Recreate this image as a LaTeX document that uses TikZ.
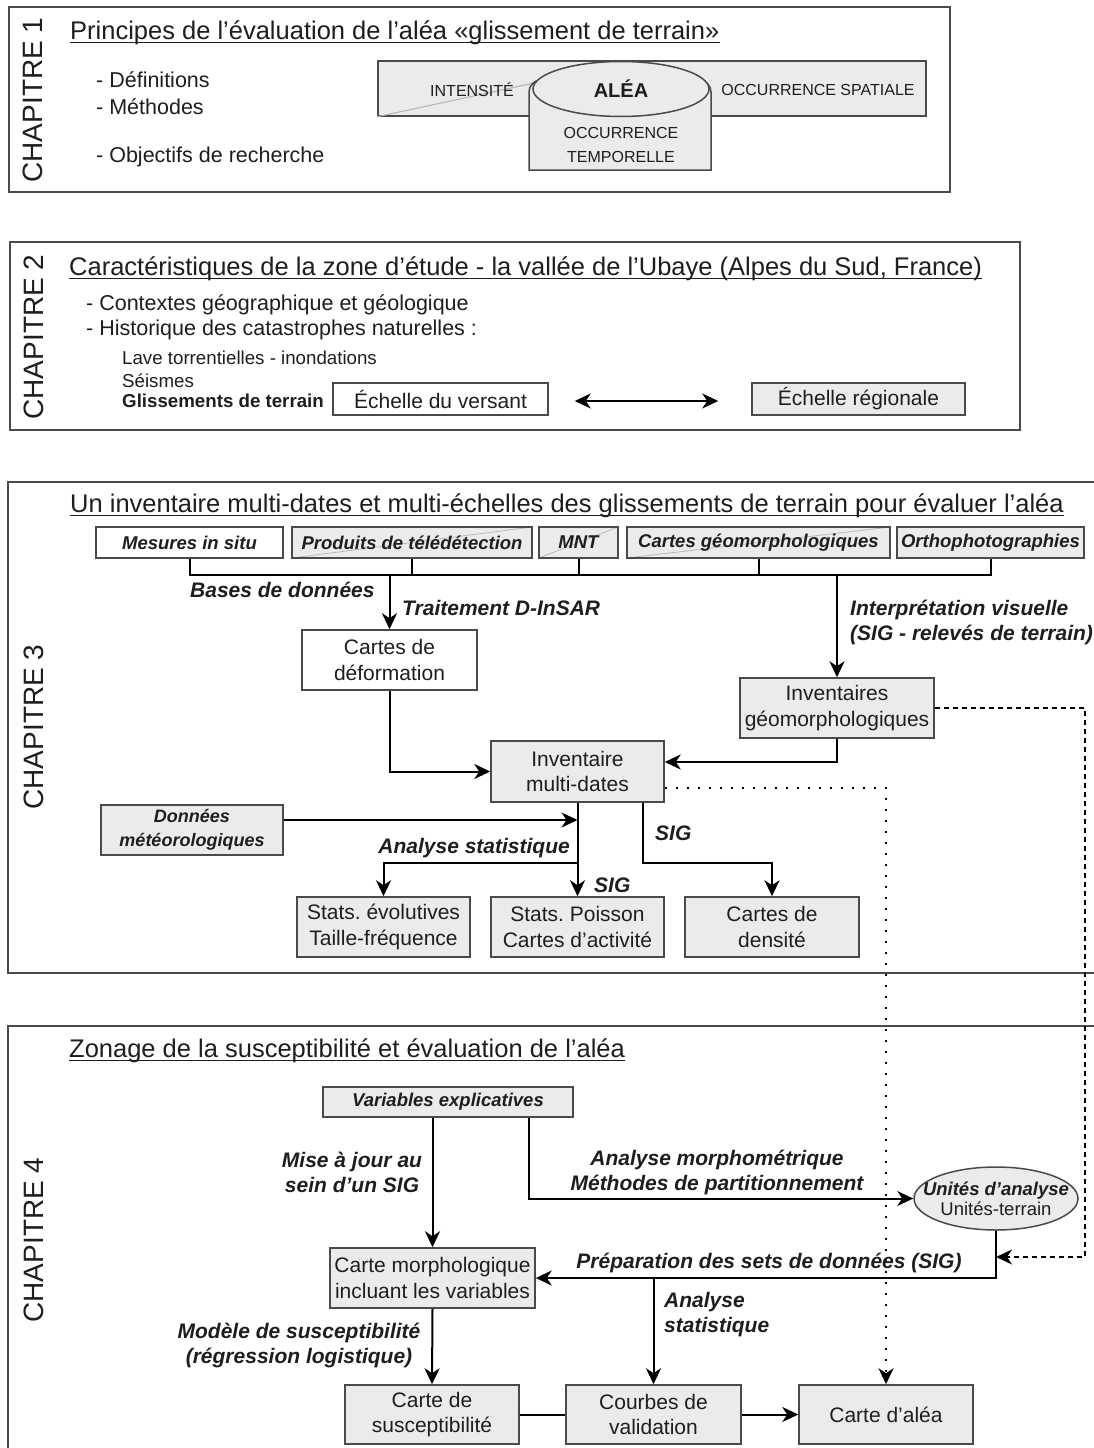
\documentclass[tikz,border=0pt]{standalone}
\usepackage{fontspec}
\setmainfont{Liberation Sans}
\usetikzlibrary{arrows.meta,calc,shapes.geometric}
\definecolor{bfill}{HTML}{EBEBEB}
\definecolor{bdraw}{HTML}{4A4A4A}
\definecolor{txt}{HTML}{1E1E1E}
\newcommand{\fsz}[2]{\fontsize{#1pt}{#2pt}\selectfont}
\frenchspacing
\begin{document}
\begin{tikzpicture}[x=1pt,y=-1pt,
  every node/.style={text=txt},
  chapbox/.style={draw=bdraw,line width=2},
  gbox/.style={draw=bdraw,line width=1.5,fill=bfill,inner sep=0,align=center,font=\fsz{21}{25.5}},
  wbox/.style={gbox,fill=white},
  ifont/.style={font=\fsz{18.5}{22}\bfseries\itshape},
  diag/.style={path picture={\draw[gray!55,line width=0.8] (path picture bounding box.south west) -- (path picture bounding box.north east);}},
  lab/.style={inner sep=0,font=\fsz{21}{25}\bfseries\itshape,align=center},
  tip/.tip={Stealth[length=16pt,width=15pt,inset=5pt]},
  arr/.style={line width=2,-tip},
  conn/.style={line width=2},
  dotline/.style={line width=2,dash pattern=on 2pt off 9pt,-tip},
  dashline/.style={line width=2,dash pattern=on 5pt off 4pt,-tip},
  chap/.style={rotate=90,font=\fsz{28}{30},inner sep=0},
  ttl/.style={anchor=base west,inner sep=0,font=\fsz{25.5}{30}},
  body/.style={anchor=west,inner sep=0},
]
\useasboundingbox[fill=white] (0,0) rectangle (1093,1448);

% ---------------- Chapter 1
\draw[chapbox] (9,7) rectangle (950,192);
\node[chap] (c1) at (33,100) {CHAPITRE 1};
\node[ttl] (t1) at (70,39) {Principes de l’évaluation de l’aléa «glissement de terrain»};
\draw[line width=1.5,txt] ([yshift=-3.5pt]t1.base west) -- ([yshift=-3.5pt]t1.base east);
\node[body,font=\fsz{21.5}{26}] (d1) at (96,80) {- Définitions};
\node[body,font=\fsz{21.5}{26}] (d2) at (96,107) {- Méthodes};
\node[body,font=\fsz{21.5}{26}] (d3) at (96,157) {- Objectifs de recherche};

\node[draw=bdraw,line width=1.5,fill=bfill,minimum width=548pt,minimum height=55pt,inner sep=0] (big) at (652,88.5) {};
\draw[gray!60,line width=1] (big.south west) -- (548,80);
\draw[draw=bdraw,line width=1.5,fill=bfill] (529,170) [rounded corners=12pt] -- (529,80) -- (711,80) [sharp corners] -- (711,170) -- cycle;
\node[draw=bdraw,line width=1.5,fill=bfill,ellipse,minimum width=176pt,minimum height=55pt,inner sep=0,font=\fsz{20}{24}\bfseries] (alea) at (621,89) {ALÉA};
\node[font=\fsz{16}{18},inner sep=0] (intens) at (472,90) {INTENSITÉ};
\node[font=\fsz{16}{18},inner sep=0] (ospat) at (818,90) {OCCURRENCE SPATIALE};
\node[font=\fsz{16}{18},inner sep=0] (otemp1) at (621,133) {OCCURRENCE};
\node[font=\fsz{16}{18},inner sep=0] (otemp2) at (621,157) {TEMPORELLE};

% ---------------- Chapter 2
\draw[chapbox] (10,242) rectangle (1020,430);
\node[chap] (c2) at (34,337) {CHAPITRE 2};
\node[ttl] (t2) at (69,275) {Caractéristiques de la zone d’étude - la vallée de l’Ubaye (Alpes du Sud, France)};
\draw[line width=1.5,txt] ([yshift=-3.5pt]t2.base west) -- ([yshift=-3.5pt]t2.base east);
\node[body,font=\fsz{21.5}{26}] (e1) at (86,305) {- Contextes géographique et géologique};
\node[body,font=\fsz{21.5}{26}] (e2) at (86,330) {- Historique des catastrophes naturelles :};
\node[body,font=\fsz{18.7}{22}] (e3) at (122,358) {Lave torrentielles - inondations};
\node[body,font=\fsz{18.7}{22}] (e4) at (122,381) {Séismes};
\node[body,font=\fsz{18.7}{22}\bfseries] (e5) at (122,401) {Glissements de terrain};
\node[wbox,minimum width=215pt,minimum height=32pt] (vers) at (440.5,399) {Échelle du versant};
\node[gbox,minimum width=213pt,minimum height=32pt] (reg) at (858.5,399) {Échelle régionale};
\draw[line width=2,tip-tip] ([xshift=26pt,yshift=-2pt]vers.east) -- ([xshift=-33pt,yshift=-2pt]reg.west);

% ---------------- Chapter 3
\draw[chapbox] (1100,482) -- (8,482) -- (8,973) -- (1100,973);
\node[chap] (c3) at (34,727) {CHAPITRE 3};
\node[ttl] (t3) at (70,512) {Un inventaire multi-dates et multi-échelles des glissements de terrain pour évaluer l’aléa};
\draw[line width=1.5,txt] ([yshift=-3.5pt]t3.base west) -- ([yshift=-3.5pt]t3.base east);

\node[wbox,ifont,minimum width=187pt,minimum height=31pt] (mes) at (189.5,542.5) {Mesures in situ};
\node[gbox,ifont,diag,minimum width=240pt,minimum height=31pt] (prod) at (412,542.5) {Produits de télédétection};
\node[gbox,ifont,diag,minimum width=79pt,minimum height=31pt] (mnt) at (578.5,542.5) {MNT};
\node[gbox,ifont,diag,minimum width=263pt,minimum height=31pt] (cgeo) at (758.5,542.5) {Cartes géomorphologiques};
\node[gbox,ifont,minimum width=187pt,minimum height=31pt] (ortho) at (990.5,542.5) {Orthophotographies};

\coordinate (bar) at (0,575);
\draw[conn] (mes.south) -- (mes.south |- bar) -- (ortho.south |- bar) -- (ortho.south);
\foreach \n in {prod,mnt,cgeo} \draw[conn] (\n.south) -- (\n.south |- bar);

\node[wbox,minimum width=175pt,minimum height=60pt] (def) at (389.5,660) {Cartes de\\déformation};
\node[gbox,minimum width=194pt,minimum height=60pt] (invg) at (837,708) {Inventaires\\géomorphologiques};
\node[gbox,minimum width=173pt,minimum height=61pt] (inv) at (577.5,771.5) {Inventaire\\multi-dates};
\node[gbox,font=\fsz{18}{24}\bfseries\itshape,minimum width=182pt,minimum height=50pt] (met) at (192,830) {Données\\météorologiques};
\node[gbox,minimum width=173pt,minimum height=60pt] (se) at (383.5,927) {Stats. évolutives\\Taille-fréquence};
\node[gbox,minimum width=173pt,minimum height=60pt] (sp) at (577.5,927) {Stats. Poisson\\Cartes d’activité};
\node[gbox,minimum width=174pt,minimum height=60pt] (cd) at (772,927) {Cartes de\\densité};

\draw[arr] (def.north |- bar) -- (def.north);
\draw[arr] (invg.north |- bar) -- (invg.north);
\draw[arr] (def.south) |- (inv.west);
\coordinate (yA) at (0,762);
\draw[arr] (invg.south) |- (inv.east |- yA);
\coordinate (yC) at (0,820);
\draw[arr] (met.east |- yC) -- (inv.south |- yC);
\draw[arr] (inv.south) -- (sp.north);
\coordinate (yD) at (0,863);
\draw[arr] (inv.south |- yD) -| (se.north);
\coordinate (xE) at (643,0);
\draw[arr] (xE |- inv.south) |- (cd.north |- yD) -- (cd.north);

\node[lab,anchor=west] (l1) at (190,590) {Bases de données};
\node[lab,anchor=west] (l2) at (402,608) {Traitement D-InSAR};
\node[lab,anchor=west,align=left] (l3) at (850,622) {Interprétation visuelle\\(SIG - relevés de terrain)};
\node[lab,anchor=east] (l4) at (570,848) {Analyse statistique};
\node[lab,anchor=west] (l5) at (594,885) {SIG};
\node[lab,anchor=west] (l6) at (655,833) {SIG};

% ---------------- Chapter 4
\draw[chapbox] (1100,1026) -- (8,1026) -- (8,1452);
\node[chap] (c4) at (34,1240) {CHAPITRE 4};
\node[ttl] (t4) at (69,1057) {Zonage de la susceptibilité et évaluation de l’aléa};
\draw[line width=1.5,txt] ([yshift=-3.5pt]t4.base west) -- ([yshift=-3.5pt]t4.base east);

\node[gbox,ifont,minimum width=250pt,minimum height=30pt] (var) at (448,1102) {Variables explicatives};
\node[gbox,minimum width=205pt,minimum height=60pt] (cm) at (432.5,1278) {Carte morphologique\\incluant les variables};
\node[draw=bdraw,line width=1.5,fill=bfill,ellipse,minimum width=164pt,minimum height=63pt,inner sep=0] (uni) at (996,1198.5) {};
\node[inner sep=0,align=center,font=\fsz{18.5}{20}] (unitxt) at (996,1199) {{\bfseries\itshape Unités d’analyse}\\Unités-terrain};
\node[gbox,minimum width=174pt,minimum height=59pt] (cs) at (432,1414.5) {Carte de\\susceptibilité};
\node[gbox,minimum width=175pt,minimum height=59pt] (cv) at (653.5,1414.5) {Courbes de\\validation};
\node[gbox,minimum width=174pt,minimum height=59pt] (ca) at (886,1414.5) {Carte d’aléa};

\draw[arr] (var.south -| cm.north) -- (cm.north);
\coordinate (xF) at (529,0);
\draw[arr] (xF |- var.south) |- (uni.west);
\draw[arr] (uni.south) |- (cm.east);
\draw[arr] (cv.north |- cm.east) -- (cv.north);
\draw[arr] (cm.south) -- (cs.north);
\draw[conn] (cs.east) -- (cv.west);
\draw[arr] (cv.east) -- (ca.west);

% cross-chapter links
\coordinate (yB) at (0,788);
\draw[dotline] (inv.east |- yB) -- (ca.north |- yB) -- (ca.north);
\coordinate (dR) at (1085,1257);
\draw[dashline] (invg.east) -| (dR) -- (uni.south |- dR);

\node[lab] (m1) at (352,1172) {Mise à jour au\\sein d’un SIG};
\node[lab] (m2) at (717,1172) {Analyse morphométrique\\Méthodes de partitionnement};
\node[lab] (m3) at (769,1263) {Préparation des sets de données (SIG)};
\node[lab,anchor=west,align=left] (m4) at (664,1315) {Analyse\\statistique};
\node[lab] (m5) at (299,1345) {Modèle de susceptibilité\\(régression logistique)};
\end{tikzpicture}
\end{document}
